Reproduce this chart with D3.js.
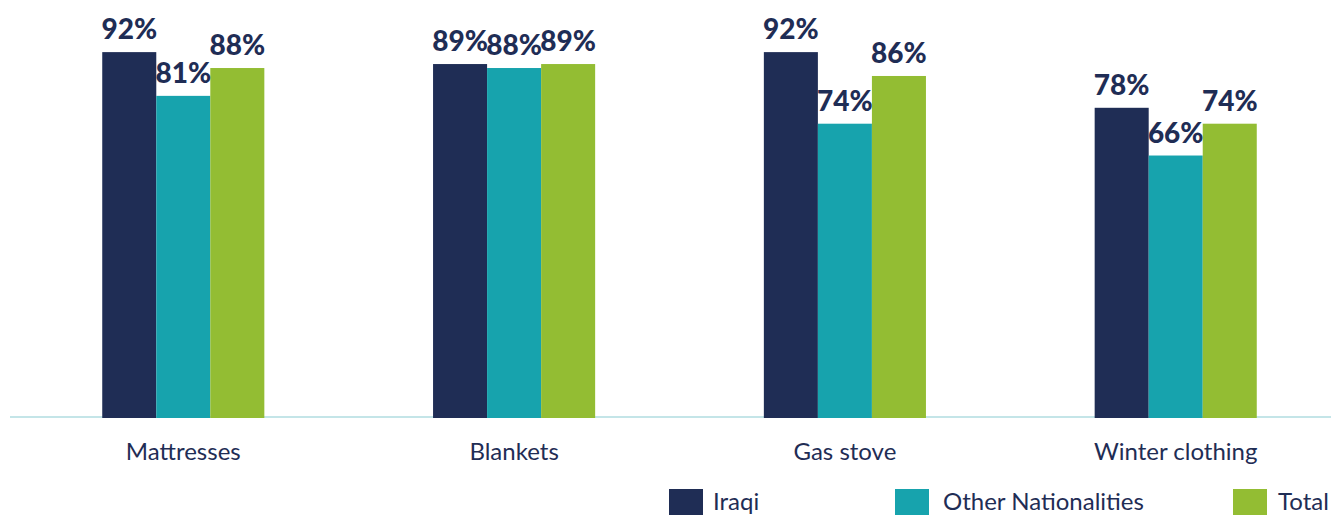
<!DOCTYPE html>
<html>
<head>
<meta charset="utf-8">
<script src="https://cdn.jsdelivr.net/npm/d3@7"></script>
<style>
  html, body { margin: 0; padding: 0; background: #ffffff; }
  svg { display: block; }
</style>
</head>
<body>
<svg id="chart" width="1331" height="515"></svg>
<script>
const categories = ["Mattresses", "Blankets", "Gas stove", "Winter clothing"];
const seriesNames = ["Iraqi", "Other Nationalities", "Total"];
const iraqi = [92, 89, 92, 78];
const otherNationalities = [81, 88, 74, 66];
const total = [88, 89, 86, 74];
const seriesValues = [iraqi, otherNationalities, total];
const colors = ["#1f2d55", "#17a3ad", "#93bd33"];

const svg = d3.select("#chart");
const W = 1331, H = 515;
const baseY = 418;
const font = "Lato, 'Open Sans', sans-serif";
const textColor = "#1f2d55";

const x0 = d3.scaleBand()
  .domain(categories)
  .range([3, 1356])
  .paddingInner(0.51)
  .paddingOuter(0.3);

const x1 = d3.scaleBand()
  .domain(seriesNames)
  .range([0, x0.bandwidth()])
  .padding(0);

const y = d3.scaleLinear().domain([0, 100]).range([baseY, 20.3]);

// axis line
svg.append("line")
  .attr("x1", 10).attr("x2", W)
  .attr("y1", 417).attr("y2", 417)
  .attr("stroke", "#c4e5e8").attr("stroke-width", 2);

const data = categories.map((c, i) => ({
  cat: c,
  vals: seriesNames.map((s, j) => ({ series: s, value: seriesValues[j][i], color: colors[j] }))
}));

const groups = svg.selectAll("g.grp").data(data).enter().append("g")
  .attr("class", "grp")
  .attr("transform", d => `translate(${x0(d.cat)},0)`);

groups.selectAll("rect").data(d => d.vals).enter().append("rect")
  .attr("x", d => x1(d.series))
  .attr("width", x1.bandwidth())
  .attr("y", d => y(d.value))
  .attr("height", d => baseY - y(d.value))
  .attr("fill", d => d.color);

groups.selectAll("text.val").data(d => d.vals).enter().append("text")
  .attr("class", "val")
  .attr("x", d => x1(d.series) + x1.bandwidth() / 2)
  .attr("y", d => y(d.value) - 13)
  .attr("text-anchor", "middle")
  .attr("font-family", font)
  .attr("font-weight", "900")
  .attr("font-size", "28px")
  .attr("fill", textColor)
  .text(d => d.value + "%");

// category axis labels
const xAxis = d3.axisBottom(x0).tickSize(0).tickPadding(0);
const axG = svg.append("g").attr("transform", `translate(0,${baseY})`).call(xAxis);
axG.select(".domain").remove();
axG.selectAll("text")
  .attr("dy", null)
  .attr("y", 42)
  .attr("font-family", font)
  .attr("font-size", "24px")
  .attr("fill", textColor);

// legend
const legendX = [669, 895, 1233];
const leg = svg.selectAll("g.leg").data(seriesNames).enter().append("g")
  .attr("class", "leg")
  .attr("transform", (d, i) => `translate(${legendX[i]},489)`);
leg.append("rect").attr("width", 34).attr("height", 34).attr("fill", (d, i) => colors[i]);
leg.append("text")
  .attr("x", (d, i) => i === 0 ? 44 : (i === 1 ? 48 : 45))
  .attr("y", 21)
  .attr("font-family", font)
  .attr("font-size", "24px")
  .attr("fill", textColor)
  .text(d => d);
</script>
</body>
</html>
